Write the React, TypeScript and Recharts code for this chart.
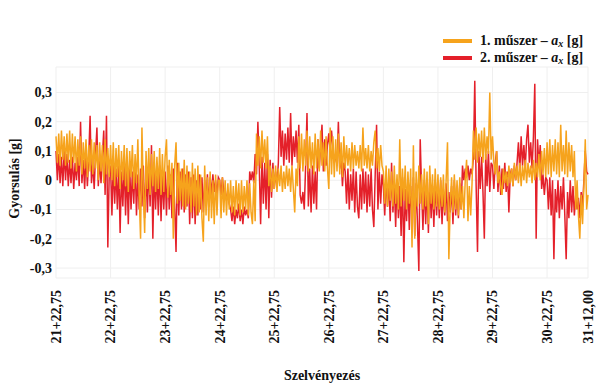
import React from "react";
import { CartesianGrid, Label, Line, LineChart, XAxis, YAxis } from "recharts";

// station labels on the x axis (position in km from the first one)
const stationLabels = [
  "21+22,75", "22+22,75", "23+22,75", "24+22,75", "25+22,75", "26+22,75",
  "27+22,75", "28+22,75", "29+22,75", "30+22,75", "31+12,00",
];
const stationTicks = [0, 1, 2, 3, 4, 5, 6, 7, 8, 9, 9.75];
const accelTicks = [-0.3, -0.2, -0.1, 0, 0.1, 0.2, 0.3];

// samples every 0.025 km, one row per station section
const STEP = 0.025;

// 1. műszer – a_x [g]
const muszer1 = [
  .15, .06, .16, .05, .17, .07, .15, .05, .16, .06, .17, .04, .16, .06, .15, .03, .14, .05, .15, .02, .13, .04, .14, .01, .12, .03, .14, .02, .13, .04, .12, .0, .13, .03, .12, -.01, .14, .02, .11, .01,
  .12, .0, .13, -.02, .11, .01, .12, -.03, .1, .0, .12, -.02, .11, -.04, .1, .01, .12, -.03, .09, -.01, .14, -.05, -.2, .18, -.04, -.18, .1, -.03, .11, -.05, .09, -.02, .1, -.04, .08, -.03, .11, -.05, .09, -.04,
  .08, .14, -.06, .07, -.05, .06, -.2, .05, .13, -.08, .06, -.07, .04, -.09, .07, -.1, .05, -.08, .03, -.11, .06, -.09, .04, -.12, .05, -.11, .02, -.13, -.21, .05, -.12, .01, -.14, .03, -.13, .0, -.15, .02, -.12, .0,
  .0, -.13, .01, -.11, .0, -.12, -.01, -.1, .0, -.11, -.02, -.12, .0, -.1, -.01, -.12, .0, -.11, -.02, -.1, .0, -.12, -.01, -.11, -.15, .0, -.14, .16, .05, .15, .04, .17, .06, .14, .04, .15, -.02, .05, -.04, .04,
  -.03, .05, -.04, .04, -.02, .05, -.04, .03, -.03, .05, -.02, .04, -.04, .05, -.03, -.11, .04, -.02, .15, .04, .16, .03, .14, .05, .17, .03, .15, .04, .13, .02, .16, .04, .14, .03, .17, .05, .13, .03, .15, .04,
  -.03, .18, .02, .15, .01, .14, .03, .16, .02, .13, .01, .15, .04, .12, .05, .11, .03, .13, .04, .12, .05, .1, .04, .12, .03, .18, .05, .11, .04, .12, .03, .1, .05, .13, .17, .04, .11, .03, .12, .05,
  .03, -.08, .05, -.09, .04, -.07, .03, -.09, .05, -.08, .02, -.1, .14, -.09, .04, -.07, .05, -.1, .03, -.08, .04, -.23, .12, -.2, .03, -.09, .05, -.08, .02, -.1, .04, -.09, .03, -.15, .05, -.08, .02, -.1, .04, -.09,
  .02, -.1, .01, -.09, .02, -.11, .0, .13, -.27, -.08, .01, -.11, .02, -.1, .0, -.12, .01, -.1, -.02, -.13, .0, .07, -.14, -.02, -.12, -.01, .17, .07, .18, .06, .16, .08, .17, .06, .18, .07, .15, .09, .3, .07,
  .15, .06, .02, .1, -.01, .03, -.02, -.05, .04, -.01, .03, -.02, .05, -.01, .04, -.02, .06, .0, .05, -.01, .06, -.02, .05, .0, .07, -.01, .06, .01, .05, -.01, .07, .0, .06, .01, .09, .0, .1, .02, .11, .01,
  .13, .02, .14, .01, .12, .03, .14, .02, .13, .01, .19, .03, .12, .02, .17, .01, .13, .03, .12, .01, .1, -.1, .0, -.12, -.2, -.05, -.15, -.02, .14, -.1, -.05,
];

// 2. műszer – a_x [g]
const muszer2 = [
  .1, .0, .09, -.01, .08, -.02, .1, .0, .09, -.02, .07, -.01, .08, -.03, .06, .0, .08, -.02, .2, -.01, .07, -.03, .09, -.02, .08, .22, -.01, .06, -.03, .09, .18, -.02, .07, -.01, .08, .17, -.05, .22, -.23, .02,
  .05, -.12, .06, -.08, .04, -.1, .05, -.18, .03, -.09, .06, -.12, .04, -.15, .05, -.1, .03, -.08, .06, -.12, .02, -.1, .04, -.09, .05, -.13, .03, -.11, .05, -.09, .12, -.2, .04, -.1, .03, -.12, .05, -.14, .02, -.1,
  .03, -.12, .05, -.1, .02, -.13, .04, -.09, -.245, .06, -.12, .03, -.1, .04, -.11, .02, -.09, .03, -.15, .01, -.13, .02, -.15, .0, -.12, .02, -.1, .01, -.11, .0, -.08, .02, -.09, .01, -.05, .02, -.04, .0, -.05, .01,
  .0, -.05, .01, -.04, -.03, -.07, -.04, -.08, -.1, -.14, -.09, -.15, -.1, -.13, -.08, -.14, -.1, -.15, -.09, -.12, -.1, -.13, .03, .0, .03, -.01, .09, .02, .2, .05, -.15, .08, -.08, .06, -.1, .09, -.13, .07, -.06, .06,
  -.03, .03, -.02, .06, .25, .08, .17, .05, .16, .07, .18, .06, .23, .05, .15, .08, .17, .06, .19, -.05, -.08, -.04, -.1, .05, .23, -.09, .04, -.11, .05, -.08, .03, -.1, .14, .04, .12, .19, .03, .14, .05, .12,
  .16, .1, .17, .11, .06, .09, .05, .2, .04, .08, -.02, .06, .03, -.08, .04, -.1, .02, -.07, .04, -.11, .03, -.09, -.13, .02, -.1, .04, -.08, .03, -.11, .02, -.09, .04, -.1, -.16, .02, .19, -.1, .03, -.08, .02,
  -.02, -.12, .01, -.09, .0, -.14, .06, -.11, -.01, -.16, .0, -.13, -.02, -.19, .01, -.28, -.03, -.14, .0, -.17, -.02, -.12, .01, -.19, -.01, -.15, -.31, .14, -.03, -.17, .0, -.15, -.02, -.18, .01, -.13, -.02, -.16, .0, -.12,
  -.02, -.13, .0, -.15, -.03, -.12, -.01, -.14, -.04, -.11, -.02, -.15, .0, -.12, -.03, -.13, -.01, -.1, .05, .0, .04, .01, .05, .0, .04, .02, .08, .34, -.02, -.245, .1, -.03, .08, -.04, -.2, .09, -.02, .1, -.04, .06,
  .05, -.03, .06, .1, -.04, .05, -.05, .04, -.03, .06, -.04, .03, -.11, .02, .04, -.02, .05, .0, .06, .13, .03, .15, .05, .12, .04, .14, .19, .06, .13, .04, .15, .33, -.2, .14, .05, .12, -.03, .02, -.05, .01,
  .0, -.1, .01, -.12, .0, -.27, -.03, -.11, .0, -.13, -.02, -.1, .01, -.12, -.27, -.04, -.13, .0, -.11, -.02, -.12, -.05, -.1, -.06, -.13, -.04, -.09, .0, .1, .03, .02,
];

const ORANGE = "#F6A31C";
const RED = "#E4202A";
const FONT = "'Liberation Serif', 'Times New Roman', serif";

const data = muszer1.map((v, i) => ({ x: +(i * STEP).toFixed(3), m1: v, m2: muszer2[i] }));

const fmtAccel = (v: number) => String(v).replace(".", ",");

const StationTick = (props: any) => {
  const { x, y, payload } = props;
  const idx = stationTicks.indexOf(payload.value);
  return (
    <g transform={`translate(${x},${y}) rotate(-90)`}>
      <text x={0} y={0} dy="0.35em" textAnchor="end" fontFamily={FONT} fontWeight="bold" fontSize={14} fill="#111">
        {stationLabels[idx]}
      </text>
    </g>
  );
};

const YTitle = (props: any) => {
  const { viewBox } = props;
  const cx = viewBox.x + 14;
  const cy = viewBox.y + viewBox.height / 2 + 6;
  return (
    <text
      x={cx}
      y={cy}
      transform={`rotate(-90 ${cx} ${cy})`}
      textAnchor="middle"
      dominantBaseline="central"
      fontFamily={FONT}
      fontWeight="bold"
      fontSize={14}
      fill="#111"
    >
      Gyorsulás [g]
    </text>
  );
};

const legendItems = [
  { color: ORANGE, label: "1. műszer" },
  { color: RED, label: "2. műszer" },
];

function ChartLegend() {
  return (
    <div style={{ position: "absolute", left: 443, top: 32, fontFamily: FONT, fontWeight: "bold", fontSize: 14, color: "#111" }}>
      {legendItems.map((it) => (
        <div key={it.label} style={{ display: "flex", alignItems: "center", height: 17 }}>
          <span style={{ display: "inline-block", width: 29, height: 4, background: it.color, marginRight: 8 }} />
          <span style={{ whiteSpace: "nowrap" }}>
            {it.label} – <i>a</i>
            <i style={{ fontSize: 10, position: "relative", top: 2 }}>x</i> [g]
          </span>
        </div>
      ))}
    </div>
  );
}

export default function App() {
  return (
    <div style={{ position: "relative", width: 600, height: 386, background: "#fff" }}>
      <style>{"body{margin:0}"}</style>
      <LineChart width={600} height={386} data={data} margin={{ top: 67, right: 12, bottom: 0, left: 0 }}>
        <CartesianGrid stroke="#efefef" strokeWidth={1} />
        <XAxis
          dataKey="x"
          type="number"
          domain={[0, 9.75]}
          ticks={stationTicks}
          interval={0}
          height={108}
          tick={<StationTick />}
          tickLine={false}
          axisLine={false}
          tickSize={6}
          tickMargin={6}
        >
          <Label
            value="Szelvényezés"
            position="insideBottom"
            offset={6}
            style={{ fontFamily: FONT, fontWeight: "bold", fontSize: 14, fill: "#111" }}
          />
        </XAxis>
        <YAxis
          type="number"
          domain={[-0.334, 0.387]}
          ticks={accelTicks}
          width={56}
          tickFormatter={fmtAccel}
          tickLine={false}
          axisLine={false}
          tickSize={4}
          tickMargin={0}
          tick={{ fontFamily: FONT, fontWeight: "bold", fontSize: 14, fill: "#111" }}
          allowDataOverflow
        >
          <Label content={<YTitle />} />
        </YAxis>
        <Line type="linear" dataKey="m2" stroke={RED} strokeWidth={1.5} dot={false} isAnimationActive={false} />
        <Line type="linear" dataKey="m1" stroke={ORANGE} strokeWidth={1.5} dot={false} isAnimationActive={false} />
      </LineChart>
      <ChartLegend />
    </div>
  );
}
